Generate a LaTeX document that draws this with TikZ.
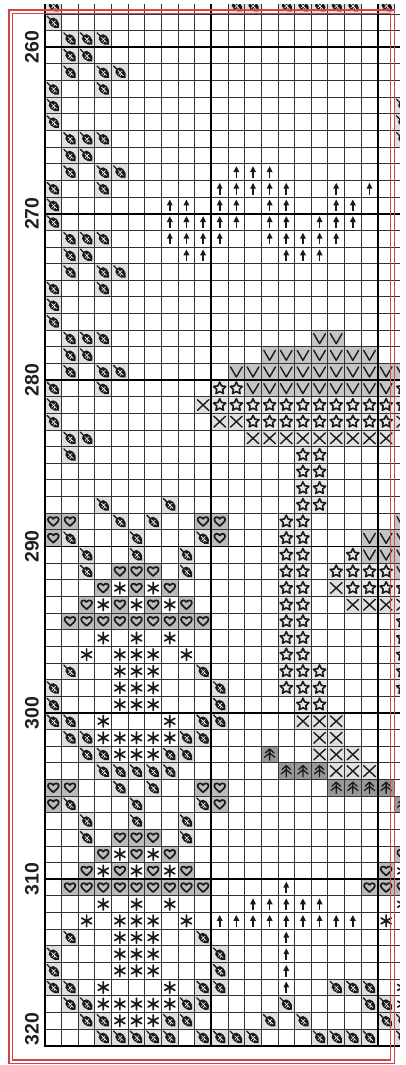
\documentclass[tikz,border=0pt]{standalone}
\usepackage{fontspec}
\setmainfont{Liberation Sans}
\definecolor{leafbg}{HTML}{E0E0E0}
\definecolor{heartbg}{HTML}{BBBBBB}
\definecolor{vbg}{HTML}{C4C4C4}
\definecolor{starbg}{HTML}{E8E8E8}
\definecolor{xbg}{HTML}{E0E0E0}
\definecolor{treebg}{HTML}{989898}
\definecolor{symc}{HTML}{1A1A1A}
\definecolor{redline}{HTML}{CF4646}
\definecolor{gridc}{HTML}{333333}
\tikzset{
  symline/.style={draw=symc, line width=#1, line join=round, line cap=round},
  symline/.default=1.4,
  leafc/.pic={
    \fill[leafbg] (-8.32,-8.32) rectangle (8.32,8.32);
    \begin{scope}[scale=1.15]
    \fill[symc] (-3,-3) .. controls (0.5,-6.8) and (6.8,-0.5) .. (4.9,4.9)
      .. controls (0.5,6.8) and (-6.8,0.5) .. cycle;
    \draw[symc, line width=1.3, line cap=round] (-3,-3) -- (-5.4,-5.4);
    \draw[white, line width=0.6] (-1.6,-1.6) -- (3,3) (0.2,0.2) -- (-1.4,2) (1.4,1.4) -- (0.2,3.3) (0.2,0.2) -- (2,-1.4);
    \end{scope}
  },
  heartc/.pic={
    \fill[heartbg] (-8.32,-8.32) rectangle (8.32,8.32);
    \draw[symline=1.7] (0,4.5) .. controls (-2.5,2.3) and (-5.4,0) .. (-5.4,-2.1)
      .. controls (-5.4,-4.8) and (-1.5,-5.3) .. (0,-2.6)
      .. controls (1.5,-5.3) and (5.4,-4.8) .. (5.4,-2.1)
      .. controls (5.4,0) and (2.5,2.3) .. cycle;
  },
  astc/.pic={
    \draw[symline=1.7] (0,-5.8) -- (0,5.8) (-5.1,-2.9) -- (5.1,2.9) (-5.1,2.9) -- (5.1,-2.9);
  },
  starc/.pic={
    \fill[starbg] (-8.32,-8.32) rectangle (8.32,8.32);
    \draw[symline=1.6] (-90:6.4) -- (-54:3.1) -- (-18:6.4) -- (18:3.1) -- (54:6.4) -- (90:3.1)
      -- (126:6.4) -- (162:3.1) -- (198:6.4) -- (234:3.1) -- cycle;
  },
  vc/.pic={
    \fill[vbg] (-8.32,-8.32) rectangle (8.32,8.32);
    \draw[symline=1.4] (-5.8,-4.8) -- (0,5.2) -- (5.8,-4.8);
  },
  xc/.pic={
    \fill[xbg] (-8.32,-8.32) rectangle (8.32,8.32);
    \draw[symline=1.4] (-5.8,-5.4) -- (5.8,5.4) (-5.8,5.4) -- (5.8,-5.4);
  },
  arrc/.pic={
    \draw[symc, line width=1.6] (0,5.8) -- (0,-1);
    \fill[symc] (-3,0) -- (0,-5.8) -- (3,0) -- cycle;
  },
  treec/.pic={
    \fill[treebg] (-8.32,-8.32) rectangle (8.32,8.32);
    \draw[symline=1.3] (0,-5.6) -- (0,5.6) (-4.2,-1.6) -- (0,-5.6) -- (4.2,-1.6)
      (-5.2,2.8) -- (0,-1.4) -- (5.2,2.8);
  },
  gridthin/.style={draw=gridc, line width=0.9},
  gridthick/.style={draw=black, line width=1.9},
  lab/.style={rotate=90, text=black!88, font=\fontsize{19.5}{20}\selectfont\bfseries, inner sep=0pt},
  redframe/.style={draw=redline, line width=1.4}
}
\newcommand\cellrows[2]{%
  \foreach \myR/\myCs in {#2}{\foreach \myC in \myCs {%
    \pic at ({45+(\myC-0.5)*16.64},{14+(\myR-0.5)*16.64}) {#1};}}}
\begin{document}
\begin{tikzpicture}[x=1pt,y=-1pt]
\fill[white] (0,0) rectangle (406,1065);
\useasboundingbox (0,0) rectangle (406,1065);
% leaves
\cellrows{leafc}{0/{1,12,13,15,16,17,18,19,21},1/{1},2/{2,3,4},3/{2,3},4/{2,4,5},5/{1,4},6/{1,22},7/{1,22},
 8/{2,3,4,22},9/{2,3},10/{2,4,5},11/{1,4},12/{1},13/{1},14/{2,3,4},15/{2,3},16/{2,4,5},17/{1,4},18/{1},19/{1},
 20/{2,3,4},21/{2,3},22/{2,4,5},23/{1,4},24/{1},25/{1},26/{2,3},27/{2},30/{4,8},31/{5,7},32/{2,6,10},
 33/{3,6,9},34/{3,9},40/{2,10},41/{1,11},42/{1,11},43/{1,2,10,11},44/{2,3,9,10},45/{3,4,8,9},46/{4,5,6,7,8},
 47/{5,7},48/{2,6,10},49/{3,6,9},50/{3,9},56/{2,10},57/{1,11},58/{1,11},59/{1,2,10,11,18,19,20},
 60/{2,3,9,10,15,20,21},61/{3,4,8,9,14,16,21,22},62/{4,5,6,7,8,10,11,12,13,17,18,19,20,22}}
% hearts
\cellrows{heartc}{31/{1,2,10,11},32/{1,11},34/{5,6,7},35/{4,6,8},36/{3,5,7,9},37/{2,...,10},
 47/{1,2,10,11},48/{1,11},50/{5,6,7},51/{4,6,8,22},52/{3,5,7,9,21},53/{2,...,10,20,21,22}}
% asterisks
\cellrows{astc}{35/{5,7},36/{4,6,8},38/{4,6,8},39/{3,5,6,7,9},40/{5,6,7},41/{5,6,7},42/{5,6,7},43/{4,8},
 44/{4,...,8},45/{5,6,7},51/{5,7},52/{4,6,8,22},54/{4,6,8,22},55/{3,5,6,7,9,21},56/{5,6,7},57/{5,6,7},
 58/{5,6,7},59/{4,8,22},60/{4,...,8,22},61/{5,6,7}}
% arrows
\cellrows{arrc}{10/{12,13,14},11/{11,12,13,14,15,18,20},12/{8,9,11,12,14,15,18,19},
 13/{8,9,10,11,12,14,15,17,18,19},14/{8,9,10,11,14,15,16,17,18},15/{9,10,15,16,17},
 53/{15},54/{13,...,17},55/{11,...,19},56/{15},57/{15},58/{15},59/{15}}
% V
\cellrows{vc}{20/{17,18},21/{14,...,20},22/{12,...,22},23/{13,...,21},31/{22},32/{20,21,22},33/{20,21,22},34/{22}}
% stars
\cellrows{starc}{23/{11,12,22},24/{11,...,22},25/{13,...,21},27/{16,17},28/{16,17},29/{16,17},30/{16,17},
 31/{15,16},32/{15,16},33/{15,16,19},34/{15,16,18,19,20,21},35/{15,16,19,20,21,22},36/{15,16},37/{15,16,22},
 38/{15,16,22},39/{15,16,22},40/{15,16,17,22},41/{15,16,17,22},42/{16,17}}
% X
\cellrows{xc}{24/{10},25/{11,12,22},26/{13,...,21},35/{18},36/{19,20,21,22},43/{16,17,18},44/{17,18},
 45/{17,18,19},46/{18,19,20}}
% trees
\cellrows{treec}{45/{14},46/{15,16,17},47/{18,19,20,21},48/{22}}
% grid
\foreach \k in {0,...,62} {\draw[gridthin] (45,{14+\k*16.64}) -- (400,{14+\k*16.64});}
\foreach \k in {0,...,21} {\draw[gridthin] ({45+\k*16.64},0) -- ({45+\k*16.64},1045.68);}
\foreach \k in {2,12,22,32,42,52,62} {\draw[gridthick] (45,{14+\k*16.64}) -- (400,{14+\k*16.64});}
\foreach \k in {0,10,20} {\draw[gridthick] ({45+\k*16.64},0) -- ({45+\k*16.64},1046.6);}
% faded edges
\fill[white] (400,0) rectangle (406,1065);
\fill[white] (0,0) rectangle (406,4.5);
% red double frame
\draw[redframe] (9,10) rectangle (394.2,1063.3);
\draw[redframe] (12.3,13.3) rectangle (390.3,1060);
% row labels
\node[lab] (l260) at (32,47.3) {260};
\node[lab] (l270) at (32,213.7) {270};
\node[lab] (l280) at (32,380.1) {280};
\node[lab] (l290) at (32,546.5) {290};
\node[lab] (l300) at (32,712.9) {300};
\node[lab] (l310) at (32,879.3) {310};
\node[lab] (l320) at (32,1029) {320};
\end{tikzpicture}
\end{document}
